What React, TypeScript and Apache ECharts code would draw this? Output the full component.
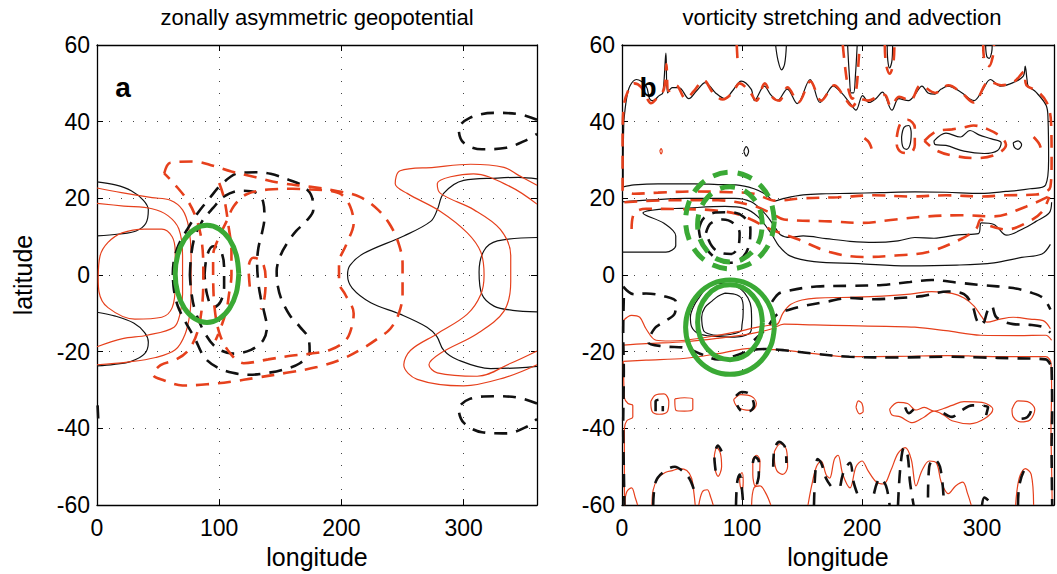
import React, { useEffect, useRef } from "react";
import * as echarts from "echarts";

const RED = "#e6401c";
const BLACK = "#111111";
const GREEN = "#3aa935";
const FONT = "'Liberation Sans', Arial, Helvetica, sans-serif";

const lonTicks = [0, 100, 200, 300];
const latTicks = [-60, -40, -20, 0, 20, 40, 60];
const panelTitles = ["zonally asymmetric geopotential", "vorticity stretching and advection"];
const panelLetters = ["a", "b"];
const xName = "longitude";
const yName = "latitude";

// ---------------- Panel a: contours [lon, lat] ----------------
const aBlackWestN = [[0,24.3],[15,23.5],[28,22],[38,19.5],[42,17],[40,13.5],[32,11.5],[18,10.7],[0,10.2]];
const aBlackWestS = [[0,-9.7],[15,-10.7],[30,-12.5],[39,-15],[42,-17.5],[39,-20.5],[28,-22.5],[14,-23.3],[0,-23.7]];
const aRedWestOuter = [[0,22.7],[20,21.5],[45,20.2],[60,19.5],[70,17],[75,12.5],[77,5],[77,-4],[76,-10],[72,-15.5],[64,-19.5],[48,-21.5],[25,-22.7],[0,-23.4]];
const aRedWestInner = [[0,18.7],[22,18],[45,17.3],[58,15.5],[67,12],[70,5],[70,-5],[68,-10],[63,-13.6],[41,-15.7],[21,-16.6],[0,-18.7]];
const aRedWestLoop = [[1,-0.8],[2.5,5],[9,8.5],[20.5,11],[39,12],[53,12],[61.5,10],[64,6],[64,-2.5],[61.5,-8.5],[53,-11],[31,-11.5],[9,-8.5],[1.6,-4.3],[1,-0.8]];
const aBlackEastBig = [[360,25.1],[345,25.5],[327.6,25.3],[300,24.7],[283.6,21.3],[278.4,17],[273,14],[251,10.2],[218,5.6],[207,2.5],[205,0],[208.8,-3.4],[224,-7.2],[248,-10.2],[270,-13.6],[278,-16],[283.6,-19.6],[295,-22.1],[322,-24.4],[345,-24.2],[360,-23.8]];
const aBlackEastSmall = [[360,9.8],[327.6,8.9],[316.7,6.4],[312.6,0.8],[315,-5.1],[324.8,-8.1],[340,-9.2],[360,-9.6]];
const aRedEastOuter = [[360,23.4],[345,26],[333,28.1],[305.7,28.9],[275.7,28.1],[248,27.2],[244,23.8],[253.8,21.3],[281,16.6],[303,11],[314,6],[316.7,0],[314,-5.1],[303,-10.2],[278.4,-15.3],[256.6,-19.6],[251,-23.4],[262,-27.2],[300,-28.9],[333,-26.8],[360,-23.4]];
const aRedEastInner = [[360,18.5],[338.5,23],[308,26.4],[278.4,23.8],[281,21.3],[308.5,17],[330,11.9],[338.5,5.1],[338.5,-1.7],[333,-9.4],[311,-15.3],[281,-20.4],[271.6,-23.4],[278.4,-25.5],[311,-26.4],[338.5,-23],[360,-19.8]];
const aBlackDashNE = [[360,40.5],[345,42],[325,42.3],[305,41],[296,38],[300,34.5],[315,32.8],[335,33.2],[350,35],[360,36.8]];
const aBlackDashSE = [[360,-33.5],[345,-32],[325,-31.6],[305,-32.3],[296,-35],[300,-38.5],[315,-41],[335,-41.3],[352,-39.5],[360,-37.5]];
const aBlackDashWestTick = [[0.5,-34],[1,-37.5]];
const aBlackDashOuter = [[62,0],[63,4],[67,8],[74,12],[82,16],[92,20],[103,24],[116,26.6],[131,26.8],[142,26.4],[158,24.7],[167,23.5],[175,21],[177,17],[171,14],[163,11.5],[156,8.5],[150,5],[147,1],[148,-3],[151,-6.4],[158,-10.6],[166,-13.5],[173,-16.5],[174,-20],[166,-23],[152,-24.7],[140,-25.5],[125,-26],[111,-25.5],[98,-24],[88,-21.5],[80,-16.5],[72,-12],[66,-8],[63,-4],[62,0]];
const aBlackDashMiddle = [[76,0],[77,5],[80,10],[86,14],[95,17.5],[104,20.5],[118,22],[130,21.5],[136,19],[137,15],[135,11],[132,7],[131,3],[132,-2],[134,-6],[137,-10],[139,-13.5],[136,-17],[126,-19.5],[112,-20.5],[98,-19],[88,-15],[80,-9],[77,-4],[76,0]];
const aBlackDashInner = [[88,0],[90,5],[95,7.5],[101,6.5],[104,2],[104,-3],[101,-7],[95,-8.5],[90,-5],[88,0]];
const aRedDashOuter = [[55,26.5],[60,29.3],[80,29.6],[95,28.5],[110,27],[130,25.5],[150,24],[175,23],[195,22],[215,20.4],[230,17],[240,13],[247,8],[250,3],[250,-5],[247,-10],[240,-14],[230,-16.5],[218,-19],[200,-22],[180,-24],[155,-25.5],[130,-26.8],[110,-27.8],[90,-28.5],[70,-28.8],[55,-27.5],[46,-26],[52,-23.5],[65,-22],[75,-19.5],[82,-15],[86,-8],[87,0],[86,8],[82,14],[75,19],[64,23.5],[55,26.5]];
const aRedDashMiddle = [[95,0],[95,5],[100,10],[106,14],[112,18],[122,21],[140,22.3],[160,22.5],[175,22.3],[190,22],[200,21],[207,18],[210,13.6],[204,8],[198,3],[198,-2],[203,-5],[210,-10],[207,-15],[202,-17.5],[191,-19.5],[175,-20.5],[160,-21],[140,-22],[120,-23],[108,-20],[100,-15],[96,-8],[95,0]];
const aRedDashInner = [[100,24],[104,20],[107.5,13],[110,6],[110,0],[108,-5],[106,-9],[101,-14],[97,-17]];
const aRedDashCurl = [[125,-3],[124,2],[128,4.5],[135,3.5],[138,-1],[137,-6],[134,-9]];
const aGreenEllipse = [[116,0.3],[114,5.2],[108.4,9.3],[100,12],[90,13],[80,12],[71.6,9.3],[66,5.2],[64,0.3],[66,-4.6],[71.6,-8.7],[80,-11.4],[90,-12.4],[100,-11.4],[108.4,-8.7],[114,-4.6],[116,0.3]];

// ---------------- Panel b: contours [lon, lat] ----------------
const bBlackTop = [[1.5,40],[3.8,46],[6.6,49.3],[12,51],[20,49.3],[23,46],[25.7,45.5],[31,46.8],[34,47.5],[36.6,57.9],[38,47.5],[42,48.9],[47.5,48.9],[55.7,46],[62,48],[69.4,50.2],[78,47.5],[85.8,46],[92,48],[99.4,50.6],[107.6,48.5],[110.4,45.5],[118.6,49.3],[124,47],[129.5,45.5],[137.7,48.5],[146,44.7],[156.8,51],[165,45],[170,47],[176,49.3],[183,47.5],[189.6,45],[195,43],[200.5,46.8],[206,45],[211.5,46],[217,47.7],[225,43],[230.6,46],[238.8,45.5],[244,47],[250,49.3],[255,47.5],[260.7,47.2],[266,48.5],[271.6,49.3],[282.5,47.7],[293.4,45.5],[300,48],[307,51],[315.3,49.3],[326,50.2],[334.4,51.9],[336,54.5],[337.5,51],[338.5,49.3],[345,47.7],[353.5,44.2],[355,40.8],[355.5,30],[353,23.5],[340,22.5],[320,21.8],[299,21.3],[270,21.6],[244,21.7],[215,21.5],[189.6,21.3],[170,21.2],[151,20.9],[135,20],[127,19.3],[120,21],[110,22.5],[95,23.5],[80,23.6],[60,23.8],[30,23.8],[10,23.5],[1,23],[1,30],[1.5,40]];
const bRedDashTop = [[0.5,22],[0.5,35],[1.5,44],[5,48],[10,50],[16,49],[21,46],[24,44.8],[30,46.5],[35,48.5],[37,55],[39,48],[45,49.5],[53,46],[60,48],[68,50.8],[76,47.5],[84,45.8],[92,47.5],[98,50],[106,48],[112,45.5],[119,50],[125,46.5],[131,45.5],[138,49],[147,45],[157,50.5],[166,45.5],[177,49.5],[186,46],[192,44],[198,46],[205,45.5],[213,46.5],[219,47],[224,44],[231,46.5],[240,45.5],[249,49.5],[261,47.5],[272,49.5],[283,47.5],[293,45],[306,50.5],[316,49.5],[327,50.5],[335,53],[337,49.5],[346,48],[354,45],[357.5,40],[358,30],[357,23],[345,21],[320,20.8],[300,20.5],[270,20.8],[240,20.5],[210,20.8],[180,20.3],[150,20],[128,19.4],[110,21.2],[90,21.6],[60,21.8],[30,21.5],[10,21.2],[0.5,22]];
const bBlackBand2 = [[0,19.1],[25,19.6],[53,20],[94,20],[107.6,19.1],[118.6,16.2],[126.8,12.8],[132,10.5],[140,9.8],[151,10.2],[170,9.5],[190,8.8],[210,8.5],[230,8.9],[244,9.8],[260,9.6],[280,10.5],[297,10.8],[299.5,13.6],[310,13.2],[320.5,10.4],[335,12.2],[345,14],[356,16.2],[358,19]];
const bBlackBand3 = [[0,6],[17.5,6],[36.6,6],[44.8,7.7],[44.8,10.2],[35,13.5],[17.5,16.2],[33,17.2],[50,17.4],[85.8,17.9],[102,17.4],[113,15.3],[124,11],[131,7.5],[140,5],[160,3.5],[197,3],[238,2.4],[279,2.6],[310,3.2],[333,4.6],[350,5.5],[357,8]];
const bRedDashBand2 = [[8,12],[10,16],[20,17.3],[45,17.2],[72,17],[95,16],[107.6,14.5],[124,11.9],[146,9.4],[173,6],[200.5,4.7],[228,5.1],[255,6],[282.5,9.4],[295,12],[299,14.5],[305,13],[320.8,11.9],[337,13.6],[350,16.5],[356,20.4]];
const bRedDashBand3 = [[2,19],[40,19.5],[80,19.5],[110,18],[125,16],[135,14.5],[173,14],[200,13.6],[228,14.5],[255,15.3],[282,15.6],[310,15.3],[337,17.9],[355,20.4]];
const bBlackDashRingOuter = [[64,12],[68,14.8],[78,16.3],[90,16.4],[101,15.3],[107,12],[106,8],[101,4.8],[90,3.2],[80,4],[72,6.2],[66,9],[64,12]];
const bBlackDashRingInner = [[70,11],[74,13.5],[84,14.5],[93,13.5],[98,11],[97,7.5],[91,5.5],[82,5.8],[75,7.5],[70,11]];
const bGreenDashOuter = [[127,14.2],[124.2,19],[116.2,23.1],[104.2,25.8],[90,26.8],[75.8,25.8],[63.8,23.1],[55.8,19],[53,14.2],[55.8,9.4],[63.8,5.3],[75.8,2.6],[90,1.6],[104.2,2.6],[116.2,5.3],[124.2,9.4],[127,14.2]];
const bGreenDashInner = [[117,13.2],[115,17],[109.1,20.1],[100.3,22.3],[90,23],[79.7,22.3],[70.9,20.1],[65,17],[63,13.2],[65,9.4],[70.9,6.3],[79.7,4.1],[90,3.4],[100.3,4.1],[109.1,6.3],[115,9.4],[117,13.2]];
const bGreenOuter = [[127,-13.6],[124.2,-8.9],[116.2,-4.9],[104.2,-2.2],[90,-1.3],[75.8,-2.2],[63.8,-4.9],[55.8,-8.9],[53,-13.6],[55.8,-18.3],[63.8,-22.3],[75.8,-25],[90,-25.9],[104.2,-25],[116.2,-22.3],[124.2,-18.3],[127,-13.6]];
const bGreenInner = [[117,-12.3],[115,-8.5],[109.1,-5.4],[100.3,-3.2],[90,-2.5],[79.7,-3.2],[70.9,-5.4],[65,-8.5],[63,-12.3],[65,-16.1],[70.9,-19.2],[79.7,-21.4],[90,-22.1],[100.3,-21.4],[109.1,-19.2],[115,-16.1],[117,-12.3]];
const bBlackLoopOuter = [[77.6,-2.1],[90,-2.3],[99.4,-3.8],[105,-6],[107.6,-8.5],[108,-12],[107.6,-14.5],[100,-16],[91,-16.2],[78,-16],[64,-15.3],[58,-13.5],[57,-11],[60,-8],[64,-6],[70,-3.5],[77.6,-2.1]];
const bBlackLoopInner = [[85.8,-4.7],[94,-5],[99.4,-6],[101,-8.5],[100.8,-11],[100,-13],[99.4,-14.5],[90,-15.5],[80,-15.7],[72,-15.3],[68,-14.5],[66.4,-11],[69,-8.5],[75,-6.8],[80,-5.5],[85.8,-4.7]];
const bBlackDashS1 = [[1,-3],[10,-5],[20,-4.8],[35,-5.5],[45,-7],[44,-10],[36,-12],[27,-14],[22,-17.5],[35,-18.6],[53,-19],[65,-20.5],[80,-22],[95,-21],[107.6,-19.6],[120,-19.3],[135,-19.6],[160,-20.5],[189.6,-21.3],[230,-21.5],[271.6,-21.3],[300,-21.5],[326,-21.7],[353,-22],[358,-24]];
const bBlackDashS2 = [[125,-7],[130,-5],[135,-4.3],[162,-3],[190,-2.8],[217,-2.6],[240,-1.8],[258,-1.3],[280,-2],[299,-2.6],[326,-3.4],[340,-4.5],[351,-6],[357,-9]];
const bBlackDashS3 = [[110,-17],[120,-14],[129.5,-10.2],[140,-9],[151,-8.1],[170,-7],[189.6,-6],[210,-6.3],[230.6,-6],[250,-5.5],[271.6,-4.3],[285,-5],[292,-8],[296,-12],[300,-13],[305,-9],[308,-8],[312,-11],[326,-12.8],[340,-13],[351,-13.6],[357,-15]];
const bRedS1 = [[1,-11.9],[8,-10.5],[14.8,-11],[20,-14],[28.4,-17],[40,-17.2],[53,-17],[75,-16],[94,-14.9],[113,-13.6],[125,-13],[129.5,-12.8],[134,-10],[140.4,-7.7],[150,-6.5],[162,-6],[190,-5.8],[217,-5.5],[240,-5],[258,-4.3],[275,-4.8],[285,-6],[293.4,-8.1],[300,-11],[304,-12.3],[315,-11.5],[326,-11],[340,-11.5],[351,-11.9],[357,-14]];
const bRedS2 = [[1,-18.3],[20,-17.9],[53,-17.4],[80,-16.5],[107.6,-15.3],[125,-14],[135,-12.8],[160,-13],[189.6,-13.2],[220,-13.4],[244,-13.6],[270,-14.5],[299,-15.7],[330,-15.8],[353,-15.7],[358,-17]];
const bRedS3 = [[1,-22.5],[20,-22.2],[53,-21.7],[80,-20.5],[107.6,-19.1],[120,-19.4],[135,-19.6],[160,-20.5],[189.6,-21.3],[230,-21.2],[271.6,-21],[300,-21.2],[330,-21.3],[353,-21.3],[357.5,-23],[358,-30],[357.5,-40],[358,-50],[358.5,-60]];
const bRedWestEdge = [[1,-22.5],[1.5,-28],[2,-32],[5,-33.5],[9,-34],[9,-37],[4,-38],[2,-40],[2,-48],[2,-55],[2.5,-60]];
const bRedLoop1 = [[24,-33],[28,-31.3],[35,-31],[39,-33],[38,-35.5],[31,-36.3],[25,-35.5],[24,-33]];
const bRedLoop2 = [[44,-32.3],[52,-32],[59,-32.3],[59,-35],[52,-35.5],[45,-35.3],[44,-32.3]];
const bRedLoop3 = [[93,-32.5],[99,-31.2],[108,-31.7],[112,-33.5],[108,-35.3],[100,-35],[95,-34],[93,-32.5]];
const bRedLoop4 = [[195,-34.5],[197,-32.8],[200,-33.5],[201,-35.5],[198,-36.2],[195,-34.5]];
const bRedLoop5 = [[223,-35],[230,-33.2],[238,-33.5],[245,-35.2],[252,-34.5],[260,-35.5],[268,-34.8],[275,-34],[285,-33],[300,-33.2],[309,-35],[302,-37.5],[290,-38.8],[275,-38],[268,-36.5],[260,-35.5],[252,-37],[242,-38.5],[232,-37],[225,-36.5],[223,-35]];
const bRedLoop6 = [[325,-35],[330,-32.8],[338,-33],[344,-35],[340,-37.8],[332,-38.3],[326,-37],[325,-35]];
const bBlackArc1 = [[28,-35.5],[28,-33],[31,-32.5],[34,-33.5],[34,-35.5]];
const bBlackArc2 = [[95,-31.5],[100,-30.5],[106,-31],[110,-34],[106,-35.5],[100,-35.5],[96,-34]];
const bBlackArc3 = [[236,-34.5],[239,-36],[243,-35]];
const bBlackArc4 = [[268,-36],[275,-37],[282,-35.5],[292,-34],[305,-34.5],[303,-37]];
const bBlackArc5 = [[333,-37.5],[338,-37],[341,-35],[340,-33.5]];
const bRedFinger1 = [[2,-60],[4,-56.5],[8,-55.5],[11,-58],[13,-60]];
const bRedFinger2 = [[25,-60],[26,-56],[30,-53],[36,-51.5],[42,-51],[48,-50.5],[54,-51],[58,-53],[60,-57],[61,-60]];
const bRedFinger3 = [[64,-60],[67,-56.5],[71,-56],[74,-58],[76,-60]];
const bRedFinger4 = [[108,-60],[110,-55.5],[115,-55],[120,-57],[124,-60]];
const bRedFinger5 = [[155,-60],[158,-55],[162,-50],[166,-48.5],[170,-52],[173,-53],[177,-48],[180,-47],[184,-52],[190,-55.5],[195,-50],[200,-48.5],[205,-51],[212,-54],[218,-54.5],[224,-51],[230,-46.5],[236,-45],[241,-48],[245,-55],[250,-51],[256,-48.5],[262,-49],[266,-54],[272,-57],[278,-55],[284,-54],[288,-57],[291,-60]];
const bRedFinger6 = [[328,-60],[331,-53],[336,-50.5],[341,-52],[343,-60]];
const bRedSmall1 = [[77,-47],[79,-45],[82,-46.5],[83,-50],[80,-52.5],[77.5,-50.5],[77,-47]];
const bRedSmall2 = [[98,-52.5],[100,-51.5],[101,-54],[100,-56],[98.5,-55],[98,-52.5]];
const bRedSmall3 = [[109,-48],[112,-47],[115,-48.5],[114,-53],[111,-55],[109,-52],[109,-48]];
const bRedSmall4 = [[127,-46],[132,-44],[137,-45.5],[138,-50],[134,-52],[129,-51],[127,-48],[127,-46]];
const bBlackFinger1 = [[26,-60],[28,-54],[34,-51.5],[44,-50],[50,-51],[56,-53],[60,-56]];
const bBlackFinger2 = [[78,-51],[77,-47.5],[80,-44.5],[83,-46]];
const bBlackFinger3 = [[95,-60],[96,-54],[98,-52],[100,-56],[101,-60]];
const bBlackFinger4 = [[109,-49],[111,-47.5],[114,-48.5],[114,-52],[112,-55]];
const bBlackFinger5 = [[126,-50],[127,-45.5],[131,-43.5],[136,-45],[137,-49]];
const bBlackFinger6 = [[160,-60],[161,-52],[163,-48],[166,-49],[170,-53],[174,-55]];
const bBlackFinger7 = [[182,-55],[185,-51],[190,-49],[193,-54],[196,-57]];
const bBlackFinger8 = [[210,-57],[215,-53],[220,-55],[223,-60]];
const bBlackFinger9 = [[230,-60],[232,-50],[235,-45],[238,-47],[240,-54],[243,-60]];
const bBlackFinger10 = [[255,-58],[256,-50],[260,-48],[265,-50],[268,-58]];
const bBlackFinger11 = [[300,-60],[302,-58],[306,-59]];
const bBlackFinger12 = [[330,-60],[331,-55],[335,-51],[339,-50]];
const bBlackDashWestEdge = [[1.5,-6],[1,-15],[1.5,-25],[1,-40],[1.5,-50],[2,-60]];
const bBlackDashEastEdge = [[358,-24],[358.5,-35],[358,-45],[358.5,-60]];
const bBlackSpike1 = [[128,60],[130,56],[133,53.5],[135.5,55],[137,60]];
const bBlackSpike2 = [[188,60],[189.5,52],[191,47.5],[193,47.5],[194.5,52],[196,60]];
const bRedDashSpike2 = [[184,60],[186,54],[189,48],[192,46],[195,48],[197,55],[198,60]];
const bBlackSpike3 = [[221,60],[221.5,56],[223,54],[225,56],[225.5,60]];
const bRedDashSpike3 = [[219,60],[220,55],[223,52.5],[226,55],[227,60]];
const bBlackSpike4 = [[303,60],[304,57],[306,56.5],[308,58],[308.5,60]];
const bRedDashSpike4 = [[301,60],[302,56],[306,54.5],[309,57],[310,60]];
const bRedDashSpike5 = [[95.6,60],[96.2,56.5]];
const bBlackLoopN1 = [[233,36],[235,38.5],[239,39],[241,37],[240,34],[237,32.8],[234,33.5],[233,36]];
const bRedDashLoopN1 = [[229,36],[232,39.5],[238,40.5],[244,38.5],[244,34],[240,31.8],[233,32],[229,34],[229,36]];
const bBlackLoopN2 = [[260,35],[270,37],[282,36],[290,37.7],[298,36.5],[308,35.5],[316,34.5],[313,32.5],[302,31.7],[285,32.3],[270,33.8],[261,34],[260,35]];
const bRedDashLoopN2 = [[252,35],[262,37.5],[275,38],[285,38.5],[293,39],[305,38],[316,36],[320,34],[312,31.5],[295,30.5],[275,31.2],[262,32.5],[252,35]];
const bBlackLoopN3 = [[326,34.5],[330,35],[333,34],[330,32.8],[327,33.3],[326,34.5]];
const bRedDashArcN4 = [[202,35.7],[206,34.5],[209,32]];
const bRedDashArcN5 = [[343,36],[348,34],[350,31.5]];
const bRedDot = [[31.5,32.3],[32.5,33],[33.5,32.3],[32.5,31.6],[31.5,32.3]];
const bBlackDot = [[101.5,32.3],[103.5,33.5],[105.5,32.3],[103.5,31],[101.5,32.3]];

const STYLES: Record<string, any> = {
  redSolid: { color: RED, width: 1.2, type: "solid" },
  blackSolid: { color: BLACK, width: 1.2, type: "solid" },
  redDash: { color: RED, width: 2.6, type: [13, 9] },
  blackDash: { color: BLACK, width: 2.6, type: [13, 9] },
  greenSolid: { color: GREEN, width: 5, type: "solid" },
  greenDash: { color: GREEN, width: 5, type: [15, 10] },
};
const Z: Record<string, number> = { redSolid: 2, blackSolid: 2, redDash: 3, blackDash: 3, greenSolid: 4, greenDash: 4 };

const panelA: [number[][], string][] = [
  [aBlackWestN, "blackSolid"], [aBlackWestS, "blackSolid"], [aRedWestOuter, "redSolid"], [aRedWestInner, "redSolid"],
  [aRedWestLoop, "redSolid"], [aBlackEastBig, "blackSolid"], [aBlackEastSmall, "blackSolid"], [aRedEastOuter, "redSolid"],
  [aRedEastInner, "redSolid"], [aBlackDashNE, "blackDash"], [aBlackDashSE, "blackDash"], [aBlackDashWestTick, "blackDash"],
  [aBlackDashOuter, "blackDash"], [aBlackDashMiddle, "blackDash"], [aBlackDashInner, "blackDash"],
  [aRedDashOuter, "redDash"], [aRedDashMiddle, "redDash"], [aRedDashInner, "redDash"], [aRedDashCurl, "redDash"],
  [aGreenEllipse, "greenSolid"],
];
const panelB: [number[][], string][] = [
  [bBlackTop, "blackSolid"], [bRedDashTop, "redDash"], [bBlackBand2, "blackSolid"], [bBlackBand3, "blackSolid"],
  [bRedDashBand2, "redDash"], [bRedDashBand3, "redDash"], [bBlackDashRingOuter, "blackDash"], [bBlackDashRingInner, "blackDash"],
  [bBlackLoopOuter, "blackSolid"], [bBlackLoopInner, "blackSolid"], [bBlackDashS1, "blackDash"], [bBlackDashS2, "blackDash"],
  [bBlackDashS3, "blackDash"], [bRedS1, "redSolid"], [bRedS2, "redSolid"], [bRedS3, "redSolid"], [bRedWestEdge, "redSolid"],
  [bRedLoop1, "redSolid"], [bRedLoop2, "redSolid"], [bRedLoop3, "redSolid"], [bRedLoop4, "redSolid"], [bRedLoop5, "redSolid"], [bRedLoop6, "redSolid"],
  [bBlackArc1, "blackDash"], [bBlackArc2, "blackDash"], [bBlackArc3, "blackDash"], [bBlackArc4, "blackDash"], [bBlackArc5, "blackDash"],
  [bRedFinger1, "redSolid"], [bRedFinger2, "redSolid"], [bRedFinger3, "redSolid"], [bRedFinger4, "redSolid"], [bRedFinger5, "redSolid"], [bRedFinger6, "redSolid"],
  [bRedSmall1, "redSolid"], [bRedSmall2, "redSolid"], [bRedSmall3, "redSolid"], [bRedSmall4, "redSolid"],
  [bBlackFinger1, "blackDash"], [bBlackFinger2, "blackDash"], [bBlackFinger3, "blackDash"], [bBlackFinger4, "blackDash"],
  [bBlackFinger5, "blackDash"], [bBlackFinger6, "blackDash"], [bBlackFinger7, "blackDash"], [bBlackFinger8, "blackDash"],
  [bBlackFinger9, "blackDash"], [bBlackFinger10, "blackDash"], [bBlackFinger11, "blackDash"], [bBlackFinger12, "blackDash"],
  [bBlackDashWestEdge, "blackDash"], [bBlackDashEastEdge, "blackDash"],
  [bBlackSpike1, "blackSolid"], [bBlackSpike2, "blackSolid"], [bRedDashSpike2, "redDash"], [bBlackSpike3, "blackSolid"],
  [bRedDashSpike3, "redDash"], [bBlackSpike4, "blackSolid"], [bRedDashSpike4, "redDash"], [bRedDashSpike5, "redDash"],
  [bBlackLoopN1, "blackSolid"], [bRedDashLoopN1, "redDash"], [bBlackLoopN2, "blackSolid"], [bRedDashLoopN2, "redDash"],
  [bBlackLoopN3, "blackSolid"], [bRedDashArcN4, "redDash"], [bRedDashArcN5, "redDash"], [bRedDot, "redSolid"], [bBlackDot, "blackSolid"],
  [bGreenDashOuter, "greenDash"], [bGreenDashInner, "greenDash"], [bGreenOuter, "greenSolid"], [bGreenInner, "greenSolid"],
];

const GRIDS = [
  { left: 97, top: 45, width: 440, height: 470 },
  { left: 622, top: 45, width: 440, height: 470 },
];

function buildOption() {
  const xAxis: any[] = [];
  const yAxis: any[] = [];
  const frameLine = { show: true, onZero: false, lineStyle: { color: "#000", width: 1.3 } };
  const tick = { show: true, inside: true, length: 6, lineStyle: { color: "#000", width: 1 } };
  const dotted = { show: true, lineStyle: { color: "#444", width: 1, type: [1, 11] } };
  GRIDS.forEach((_, g) => {
    xAxis.push({
      type: "value", gridIndex: g, position: "bottom", min: 0, max: 360, interval: 100,
      axisLine: frameLine, axisTick: tick, splitLine: dotted,
      axisLabel: { fontSize: 23, color: "#000", fontFamily: FONT, margin: 11, formatter: (v: number) => (lonTicks.includes(v) ? String(v) : "") },
      name: xName, nameLocation: "middle", nameGap: 33, nameTextStyle: { fontSize: 25, color: "#000", fontFamily: FONT },
    });
    xAxis.push({
      type: "value", gridIndex: g, position: "top", min: 0, max: 360, interval: 100,
      axisLine: frameLine, axisTick: tick, axisLabel: { show: false }, splitLine: { show: false },
    });
    yAxis.push({
      type: "value", gridIndex: g, position: "left", min: -60, max: 60, interval: 20,
      axisLine: frameLine, axisTick: tick, splitLine: dotted,
      axisLabel: { fontSize: 23, color: "#000", fontFamily: FONT, margin: 7, formatter: (v: number) => (latTicks.includes(v) ? String(v) : "") },
      name: g === 0 ? yName : "", nameLocation: "middle", nameGap: 62, nameRotate: 90,
      nameTextStyle: { fontSize: 25, color: "#000", fontFamily: FONT },
    });
    yAxis.push({
      type: "value", gridIndex: g, position: "right", min: -60, max: 60, interval: 20,
      axisLine: frameLine, axisTick: tick, axisLabel: { show: false }, splitLine: { show: false },
    });
  });
  const series: any[] = [];
  [panelA, panelB].forEach((list, g) => {
    list.forEach(([data, st]) => {
      series.push({
        type: "line", xAxisIndex: g * 2, yAxisIndex: g * 2, data, symbol: "none", showSymbol: false,
        smooth: 0.35, clip: true, silent: true, z: Z[st], lineStyle: { ...STYLES[st] },
      });
    });
  });
  const titleX = [GRIDS[0].left + GRIDS[0].width / 2, GRIDS[1].left + GRIDS[1].width / 2];
  const graphic: any[] = [];
  panelTitles.forEach((t, i) => {
    graphic.push({ type: "text", x: titleX[i], y: 17, style: { text: t, fill: "#000", font: `22px ${FONT}`, textAlign: "center", textVerticalAlign: "middle", align: "center", verticalAlign: "middle" } });
  });
  panelLetters.forEach((t, i) => {
    graphic.push({ type: "text", x: GRIDS[i].left + 26, y: 87, z: 10, style: { text: t, fill: "#000", font: `bold 28px ${FONT}`, textAlign: "center", textVerticalAlign: "middle", align: "center", verticalAlign: "middle" } });
  });
  return {
    animation: false,
    backgroundColor: "#fff",
    grid: GRIDS.map((g) => ({ ...g, containLabel: false })),
    xAxis, yAxis, series, graphic,
  };
}

export default function App() {
  const ref = useRef<HTMLDivElement>(null);
  useEffect(() => {
    if (!ref.current) return;
    const chart = echarts.init(ref.current, null, { renderer: "svg" });
    chart.setOption(buildOption() as any);
    return () => chart.dispose();
  }, []);
  return <div ref={ref} style={{ position: "fixed", left: 0, top: 0, width: 1057, height: 574, background: "#fff" }} />;
}
